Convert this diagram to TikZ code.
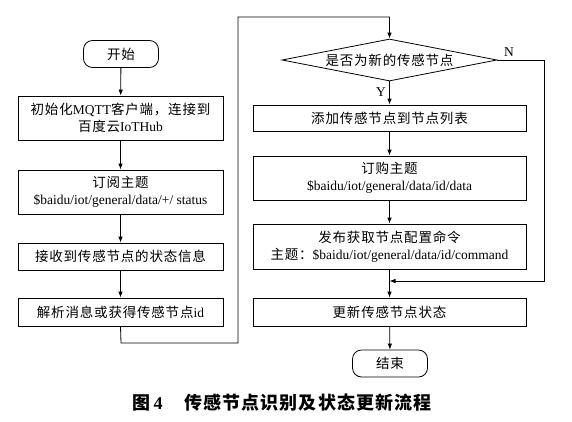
\documentclass[tikz,border=0pt]{standalone}
\usepackage{fontspec}
\setmainfont{Liberation Serif}
\newfontfamily\cjk[LetterSpace=6]{Noto Sans CJK SC}
\usetikzlibrary{positioning,arrows.meta,shapes.geometric}

\begin{document}
\begin{tikzpicture}[
  x=1pt, y=-1pt,
  every node/.style={font=\fontsize{13.5pt}{17pt}\selectfont},
  box/.style={draw, line width=0.8pt, align=center, inner sep=1pt},
  lbox/.style={box, minimum width=205pt},
  rbox/.style={box, minimum width=273pt},
  term/.style={box, rounded corners=9pt, minimum width=75pt, minimum height=27pt},
  decide/.style={box, diamond, aspect=5.1, minimum width=215pt, minimum height=42pt, inner sep=0pt},
  flow/.style={line width=0.8pt, -{Latex[length=6pt,width=4.5pt]}},
  link/.style={line width=0.8pt}]
  \useasboundingbox (0,0) rectangle (572,421);

  % left column
  \node[term] (start) at (121,54) {\cjk 开始};
  \node[lbox, minimum height=44pt] (init) at (120.5,118) {{\cjk 初始化}MQTT{\cjk 客户端，连接到}\\{\cjk 百度云}IoTHub};
  \node[lbox, minimum height=44pt] (sub) at (120.5,192) {{\cjk 订阅主题}\\\$baidu/iot/general/data/+/ status};
  \node[lbox, minimum height=27pt] (recv) at (120.5,256.5) {\cjk 接收到传感节点的状态信息};
  \node[lbox, minimum height=28pt] (parse) at (120.5,312) {{\cjk 解析消息或获得传感节点}id};

  % right column
  \node[decide] (isnew) at (389.5,60) {\cjk 是否为新的传感节点};
  \node[rbox, minimum height=26pt] (add) at (389.5,118) {\cjk 添加传感节点到节点列表};
  \node[rbox, minimum height=44pt] (subid) at (389.5,178) {{\cjk 订购主题}\\\$baidu/iot/general/data/id/data};
  \node[rbox, minimum height=45pt] (pub) at (389.5,246.5) {{\cjk 发布获取节点配置命令}\\{\cjk 主题：}\$baidu/iot/general/data/id/command};
  \node[rbox, minimum height=28pt] (upd) at (389.5,312) {\cjk 更新传感节点状态};
  \node[term] (stop) at (390,363.5) {\cjk 结束};

  \coordinate (loopL) at (121,343);
  \coordinate (loopT) at (238,17);
  \coordinate (nR) at (544,60);
  \coordinate (merge) at (389.5,281);

  \draw[flow] (start) -- (init);
  \draw[flow] (init) -- (sub);
  \draw[flow] (sub) -- (recv);
  \draw[flow] (recv) -- (parse);
  \draw[flow] (parse.south) -- (loopL) -| (loopT) -| (isnew.north);
  \draw[flow] (isnew) -- node[left, pos=0.45] {Y} (add);
  \draw[flow] (add) -- (subid);
  \draw[flow] (subid) -- (pub);
  \draw[flow] (pub) -- (upd);
  \draw[flow] (upd) -- (stop);
  \draw[link] (isnew.east) -- node[above, pos=0.25] {N} (nR);
  \draw[flow] (nR) |- (merge);

  \node[font=\fontsize{18pt}{21pt}\selectfont\bfseries] (caption) at (282,403)
    {{\cjk 图}\,4\hspace{22pt}{\cjk 传感节点识别及状态更新流程}};
\end{tikzpicture}
\end{document}
